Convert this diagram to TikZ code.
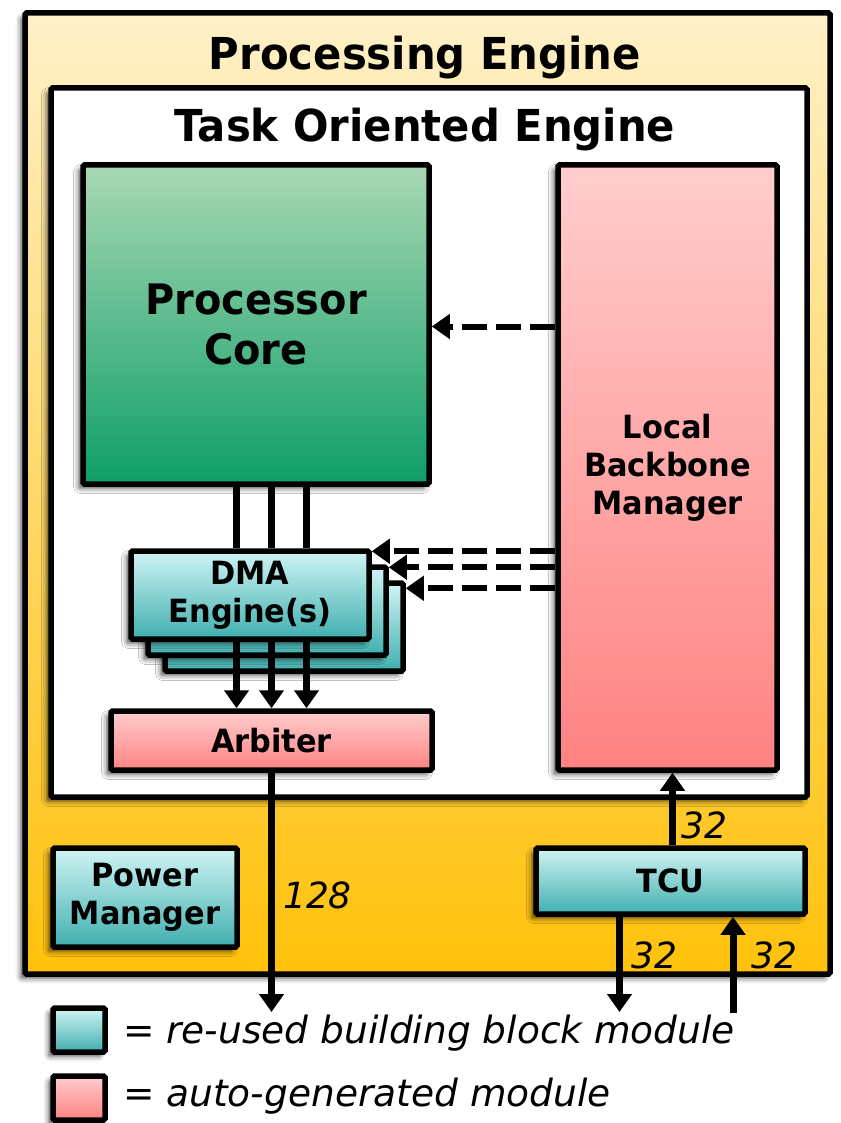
\documentclass[tikz,border=0pt]{standalone}
\usepackage{fontspec}
\setmainfont{DejaVu Sans}[BoldFont={DejaVu Sans Bold},BoldFeatures={FakeStretch=0.95}]
\usetikzlibrary{arrows.meta,calc,shadows.blur}

\definecolor{peTop}{HTML}{FFF0C8}
\definecolor{peBot}{HTML}{FFC10A}
\definecolor{grTop}{HTML}{A8D8B4}
\definecolor{grBot}{HTML}{0E9E68}
\definecolor{pkTop}{HTML}{FFCDCD}
\definecolor{pkBot}{HTML}{FF8282}
\definecolor{cyTop}{HTML}{D0F4F4}
\definecolor{cyBot}{HTML}{40AFAF}

\begin{document}
\begin{tikzpicture}[x=1pt,y=-1pt,
  shadowed/.style={blur shadow={shadow xshift=-4.5pt,shadow yshift=-4.5pt,shadow blur radius=5pt,shadow opacity=65}},
  block/.style={draw=black,line width=5.5pt,rounded corners=1.5pt,inner sep=0pt,align=center,shadowed,
    font=\bfseries\fontsize{32}{38}\selectfont},
  reused/.style={block,top color=cyTop,bottom color=cyBot},
  autogen/.style={block,top color=pkTop,bottom color=pkBot},
  heading/.style={font=\bfseries\fontsize{44}{50}\selectfont,inner sep=0pt,anchor=base},
  bus/.style={line width=7pt},
  busarrow/.style={bus,-{Triangle[length=18pt,width=24pt]}},
  ctrl/.style={line width=6pt,dash pattern=on 25pt off 9pt,-{Triangle[length=18pt,width=24pt]}},
  buswidth/.style={font=\itshape\fontsize{36}{40}\selectfont,inner sep=0pt,anchor=base west},
  legendtext/.style={font=\itshape\fontsize{37.5}{42}\selectfont,inner sep=0pt,anchor=base west}
]
\useasboundingbox (0,0) rectangle (840,1123);

% enclosing engines
\node[block,top color=peTop,bottom color=peBot,minimum width=805pt,minimum height=961pt] (pe) at (427.5,493.5) {};
\node[heading] (petitle) at (425,70) {Processing Engine};
\node[block,fill=white,minimum width=756pt,minimum height=709pt] (toe) at (429,442.5) {};
\node[heading] (toetitle) at (425,142) {Task Oriented Engine};

% main blocks
\node[block,top color=grTop,bottom color=grBot,minimum width=346pt,minimum height=319pt,
  font=\bfseries\fontsize{42}{50}\selectfont] (pc) at (256,324.5) {\rule{0pt}{6pt}Processor\\Core};
\node[autogen,minimum width=219pt,minimum height=605pt] (lbm) at (667.5,467.5) {Local\\Backbone\\Manager};

% stacked DMA engines
\node[reused,minimum width=238pt,minimum height=88pt] (dma3) at (284,627) {};
\node[reused,minimum width=238pt,minimum height=88pt] (dma2) at (267,611) {};
\node[reused,minimum width=238pt,minimum height=88pt] (dma1) at (250,595) {DMA\\Engine(s)};

\node[autogen,minimum width=321pt,minimum height=59pt] (arb) at (271.5,740.5) {Arbiter};
\node[reused,minimum width=184pt,minimum height=99pt] (pm) at (145,897.5) {Power\\Manager};
\node[reused,minimum width=269pt,minimum height=66pt] (tcu) at (670.5,881) {TCU};

% processor core to DMA engines to arbiter
\foreach \dx in {-35,0,35}{
  \draw[bus] ($(pc.south -| arb.north)+(\dx,0)$) -- ($(dma1.north -| arb.north)+(\dx,0)$);
  \draw[busarrow] ($(dma1.south -| arb.north)+(\dx,0)$) -- ($(arb.north)+(\dx,0)$);
}

% control from the local backbone manager
\coordinate (pcin) at ([yshift=-2pt]pc.east);
\coordinate (d1in) at ([yshift=-3pt]dma1.north east);
\coordinate (d2in) at ([yshift=-3pt]dma2.north east);
\coordinate (d3in) at ([yshift=-8pt]dma3.north east);
\draw[ctrl] (lbm.west |- pcin) -- (pcin);
\draw[ctrl] (lbm.west |- d1in) -- (d1in);
\draw[ctrl] (lbm.west |- d2in) -- (d2in);
\draw[ctrl] (lbm.west |- d3in) -- (d3in);

% external buses
\coordinate (memout) at (271.5,1012);
\draw[busarrow] (arb.south) -- (memout);
\node[buswidth] (w128) at (283,908) {128};

\coordinate (tcutop) at ($(tcu.north)+(2,0)$);
\draw[busarrow] (tcutop) -- (tcutop |- lbm.south);
\node[buswidth] (w32a) at (681,838) {32};

\coordinate (tcuout) at (619.5,1012);
\coordinate (tcuin) at (733,1013);
\draw[busarrow] (tcu.south -| tcuout) -- (tcuout);
\draw[busarrow] (tcuin) -- (tcuin |- tcu.south);
\node[buswidth] (w32b) at (631,968) {32};
\node[buswidth] (w32c) at (751,968) {32};

% legend
\node[reused,minimum width=52pt,minimum height=44pt] (legreused) at (79,1030) {};
\node[legendtext] (legreusedtext) at (123,1043) {= re-used building block module};
\node[autogen,minimum width=52pt,minimum height=44pt] (leggen) at (79,1098) {};
\node[legendtext] (leggentext) at (123,1106) {= auto-generated module};
\end{tikzpicture}
\end{document}
